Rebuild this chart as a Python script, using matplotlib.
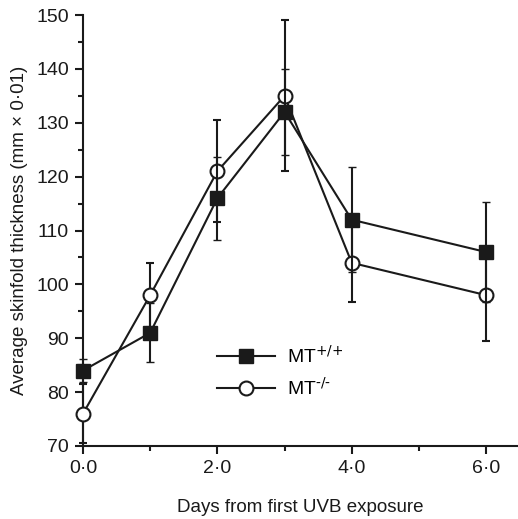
import numpy as np
import matplotlib.pyplot as plt
from matplotlib.lines import Line2D
from matplotlib.ticker import MultipleLocator, FuncFormatter

plt.rcParams['font.family'] = ['Liberation Sans', 'DejaVu Sans']
plt.rcParams['mathtext.default'] = 'regular'

days = [0, 1, 2, 3, 4, 6]
mt_wt = [84, 91, 116, 132, 112, 106]
mt_wt_err = [2.2, 5.5, 7.7, 8, 9.7, 9.3]
mt_ko = [76, 98, 121, 135, 104, 98]
mt_ko_err = [5.5, 6, 9.5, 14, 7.2, 8.6]

INK = '#1a1a1a'


def main():
    fig = plt.figure(figsize=(5.18, 5.19), dpi=100)
    ax = fig.add_axes([83 / 518, 73 / 519, 434 / 518, 431 / 519])

    ax.errorbar(days, mt_ko, yerr=mt_ko_err, color=INK, lw=1.5,
                marker='o', ms=10, mfc='white', mec=INK, mew=1.5,
                capsize=3, capthick=1.5, elinewidth=1.5,
                clip_on=False, zorder=3)
    ax.errorbar(days, mt_wt, yerr=mt_wt_err, color=INK, lw=1.5,
                marker='s', ms=10, mfc=INK, mec=INK, mew=1,
                capsize=3, capthick=1.5, elinewidth=1.5,
                clip_on=False, zorder=4)

    ax.set_xlim(0, 6.46)
    ax.set_ylim(70, 150)
    ax.xaxis.set_major_locator(MultipleLocator(2))
    ax.xaxis.set_minor_locator(MultipleLocator(1))
    ax.yaxis.set_major_locator(MultipleLocator(10))
    ax.yaxis.set_minor_locator(MultipleLocator(5))
    ax.xaxis.set_major_formatter(FuncFormatter(lambda v, p: ('%.1f' % v).replace('.', '\u00b7')))

    for s in ['top', 'right']:
        ax.spines[s].set_visible(False)
    for s in ['left', 'bottom']:
        ax.spines[s].set_linewidth(1.5)
        ax.spines[s].set_color(INK)

    ax.tick_params(which='major', direction='out', length=6, width=1.5,
                   labelsize=14, colors=INK, pad=4)
    ax.tick_params(which='minor', direction='out', length=3.5, width=1.5,
                   colors=INK)

    ax.set_xlabel('Days from first UVB exposure', fontsize=13.5, labelpad=16,
                  color=INK)
    ax.set_ylabel('Average skinfold thickness (mm \u00d7 0\u00b701)', fontsize=13.5,
                  labelpad=6, color=INK)

    h_wt = Line2D([], [], color=INK, lw=1.5, marker='s', ms=10, mfc=INK, mec=INK)
    h_ko = Line2D([], [], color=INK, lw=1.5, marker='o', ms=10, mfc='white',
                  mec=INK, mew=1.5)
    fig.legend([h_wt, h_ko], ['MT$^{\\text{+/+}}$', 'MT$^{\\text{-/-}}$'],
               loc='center left', bbox_to_anchor=(207 / 518, 1 - 372.5 / 519),
               frameon=False, fontsize=14, handlelength=3.0,
               handletextpad=0.6, borderpad=0, labelspacing=0.55)

    fig.savefig('out.png', dpi=100)


if __name__ == '__main__':
    main()
